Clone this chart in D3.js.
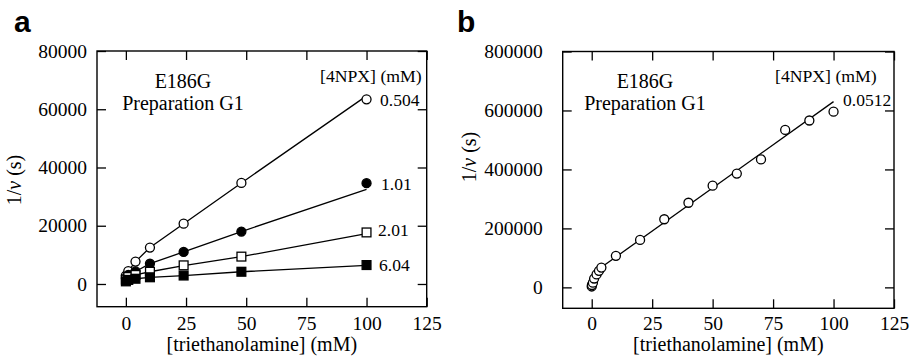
<!DOCTYPE html>
<html>
<head>
<meta charset="utf-8">
<script src="https://cdn.jsdelivr.net/npm/d3@7"></script>
<style>
  body { margin: 0; background: #fff; }
  svg { display: block; }
</style>
</head>
<body>
<div id="chart"></div>
<script>
// Lineweaver-Burk style plots, E186G preparation G1 (D3 v7)

const width = 915;
const height = 356;
const serif = '"Liberation Serif", "Tinos", "Times New Roman", "DejaVu Serif", serif';

// panel a: [triethanolamine] (mM) and 1/v (s) for four [4NPX]
const concA = [0, 1, 4, 10, 24, 48, 100];
const seriesNamesA = ['0.504', '1.01', '2.01', '6.04'];
const invV_0504 = [2900, 4400, 7700, 12500, 20700, 34700, 63400];
const invV_101 = [2000, 3100, 4300, 7000, 11000, 18000, 34600];
const invV_201 = [1500, 2400, 3100, 4200, 6400, 9400, 17700];
const invV_604 = [900, 1400, 1800, 2300, 2900, 4200, 6500];
// fitted lines as drawn (value at each concentration)
const fit_0504 = [2900, 4400, 7700, 12500, 20700, 34700, 64600];
const fit_101 = [2000, 3100, 4300, 7000, 11000, 18000, 32500];
const fit_201 = [1500, 2400, 3100, 4200, 6300, 9400, 17300];
const fit_604 = [900, 1400, 1800, 2300, 2900, 4200, 6400];

// panel b: one [4NPX]
const concB = [0, 0.1, 0.5, 1, 2, 3, 4, 10, 20, 30, 40, 50, 60, 70, 80, 90, 100];
const invV_00512 = [3000, 8000, 16000, 30000, 44000, 56000, 67000, 107000, 161000, 231000,
  287000, 345000, 386000, 434000, 534000, 566000, 596000];
const fitConcB = [4, 100];
const fit_00512 = [68000, 630000];

const xTicks = [0, 25, 50, 75, 100, 125];
const yTicksA = [0, 20000, 40000, 60000, 80000];
const yTicksB = [0, 200000, 400000, 600000, 800000];

const svg = d3.select('#chart')
  .append('svg')
  .attr('width', width)
  .attr('height', height)
  .attr('font-family', serif);

svg.append('rect').attr('width', width).attr('height', height).attr('fill', '#fff');

function drawPanel(p) {
  const x = d3.scaleLinear().domain([-12, 125]).range([p.left, p.right]);
  const y = d3.scaleLinear().domain(p.yDomain).range([p.bottom, p.top]);
  const g = svg.append('g');

  // axes with inward ticks on all four sides
  const bottom = g.append('g').attr('transform', `translate(0,${p.bottom})`)
    .call(d3.axisBottom(x).tickValues(xTicks).tickSize(-9).tickPadding(p.xPad));
  const top = g.append('g').attr('transform', `translate(0,${p.top})`)
    .call(d3.axisTop(x).tickValues(xTicks).tickSize(-9).tickFormat(''));
  const left = g.append('g').attr('transform', `translate(${p.left},0)`)
    .call(d3.axisLeft(y).tickValues(p.yTicks).tickSize(-9).tickPadding(p.yPad).tickFormat(d3.format('d')));
  const right = g.append('g').attr('transform', `translate(${p.right},0)`)
    .call(d3.axisRight(y).tickValues(p.yTicks).tickSize(-9).tickFormat(''));

  [bottom, top, left, right].forEach(a => {
    a.attr('font-family', serif).attr('font-size', 19.5);
    a.select('.domain').remove();
    a.selectAll('line').attr('stroke', '#000').attr('stroke-width', 1.3);
    a.selectAll('text').attr('fill', '#000');
  });

  g.append('rect')
    .attr('x', p.left).attr('y', p.top)
    .attr('width', p.right - p.left).attr('height', p.bottom - p.top)
    .attr('fill', 'none').attr('stroke', '#000').attr('stroke-width', 1.4);

  const line = d3.line().x(d => x(d[0])).y(d => y(d[1]));

  p.series.forEach(s => {
    g.append('path')
      .attr('d', line(d3.zip(s.fitX, s.fit)))
      .attr('fill', 'none').attr('stroke', '#000').attr('stroke-width', 1.3);
  });

  p.series.forEach(s => {
    const pts = d3.zip(s.x, s.values);
    const fill = s.filled ? '#000' : '#fff';
    if (s.shape === 'circle') {
      g.selectAll(null).data(pts).enter().append('circle')
        .attr('cx', d => x(d[0])).attr('cy', d => y(d[1])).attr('r', 4.5)
        .attr('fill', fill).attr('stroke', '#000').attr('stroke-width', 1.3);
    } else {
      g.selectAll(null).data(pts).enter().append('rect')
        .attr('x', d => x(d[0]) - 4.4).attr('y', d => y(d[1]) - 4.4)
        .attr('width', 8.8).attr('height', 8.8)
        .attr('fill', fill).attr('stroke', '#000').attr('stroke-width', 1.3);
    }
    g.append('text')
      .attr('x', s.labelX).attr('y', s.labelY)
      .attr('font-size', 17.5)
      .text(s.name);
  });

  // axis titles
  g.append('text')
    .attr('x', (p.left + p.right) / 2).attr('y', 351)
    .attr('text-anchor', 'middle')
    .attr('font-size', 20)
    .text('[triethanolamine] (mM)');

  const yt = g.append('text')
    .attr('transform', `translate(${p.yTitleX},${p.yTitleY}) rotate(-90)`)
    .attr('text-anchor', 'middle')
    .attr('font-size', 20);
  yt.append('tspan').text('1/');
  yt.append('tspan').attr('font-style', 'italic').text('v');
  yt.append('tspan').text(' (s)');

  // annotations
  g.append('text').attr('x', p.noteX).attr('y', 88).attr('text-anchor', 'middle')
    .attr('font-size', 20).text('E186G');
  g.append('text').attr('x', p.noteX).attr('y', 109.5).attr('text-anchor', 'middle')
    .attr('font-size', 20).text('Preparation G1');
  g.append('text').attr('x', p.legendX).attr('y', 82)
    .attr('font-size', 17.7).text('[4NPX] (mM)');

  svg.append('text')
    .attr('x', p.letterX).attr('y', 32)
    .attr('font-family', '"Liberation Sans", Arial, sans-serif')
    .attr('font-weight', 'bold')
    .attr('font-size', 30)
    .text(p.letter);
}

drawPanel({
  letter: 'a', letterX: 14,
  left: 97, right: 426.7, top: 51, bottom: 306.7,
  yDomain: [-7800, 80000], yTicks: yTicksA,
  xPad: 9, yPad: 10,
  yTitleX: 21, yTitleY: 180,
  noteX: 183, legendX: 320,
  series: [
    { name: seriesNamesA[0], x: concA, values: invV_0504, fitX: concA, fit: fit_0504, shape: 'circle', filled: false, labelX: 380, labelY: 106 },
    { name: seriesNamesA[1], x: concA, values: invV_101, fitX: concA, fit: fit_101, shape: 'circle', filled: true, labelX: 381, labelY: 190 },
    { name: seriesNamesA[2], x: concA, values: invV_201, fitX: concA, fit: fit_201, shape: 'square', filled: false, labelX: 378, labelY: 236 },
    { name: seriesNamesA[3], x: concA, values: invV_604, fitX: concA, fit: fit_604, shape: 'square', filled: true, labelX: 379, labelY: 271 }
  ]
});

drawPanel({
  letter: 'b', letterX: 457,
  left: 562.7, right: 894, top: 51.5, bottom: 308.3,
  yDomain: [-71000, 800000], yTicks: yTicksB,
  xPad: 8, yPad: 20,
  yTitleX: 476, yTitleY: 157,
  noteX: 645, legendX: 775,
  series: [
    { name: '0.0512', x: concB, values: invV_00512, fitX: fitConcB, fit: fit_00512, shape: 'circle', filled: false, labelX: 843, labelY: 106 }
  ]
});
</script>
</body>
</html>
